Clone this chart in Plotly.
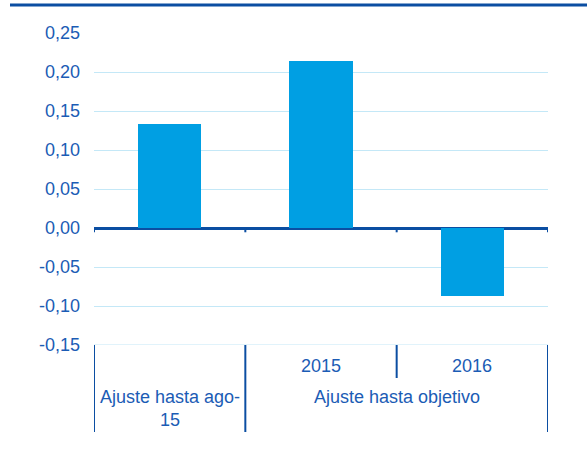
import plotly.graph_objects as go

# Data
groups = ["Ajuste hasta ago-<br>15", "Ajuste hasta objetivo"]
group_spans = [(0, 1), (1, 3)]
sub_labels = ["", "2015", "2016"]
values = [0.133, 0.214, -0.087]
y_ticks = [-0.15, -0.10, -0.05, 0.00, 0.05, 0.10, 0.15, 0.20, 0.25]
y_tick_text = ["-0,15", "-0,10", "-0,05", "0,00", "0,05", "0,10", "0,15", "0,20", "0,25"]

TXT = "#1b5cb5"
DARK = "#0b4ea2"
BAR = "#009fe3"
GRID = "#c4e8f7"
FONT = "Liberation Sans, Arial, sans-serif"
FS = 18

x_pos = [i + 0.5 for i in range(len(values))]

fig = go.Figure(go.Bar(x=x_pos, y=values, width=0.42, marker=dict(color=BAR, line=dict(width=0))))

shapes = []
# tick marks on zero line
for xb in range(len(values) + 1):
    shapes.append(dict(type="line", xref="x", yref="y", x0=xb, x1=xb, y0=0, y1=-0.0055,
                       line=dict(color=DARK, width=2)))
# bottom gridline at -0.15
shapes.append(dict(type="line", xref="x", yref="y", x0=0, x1=3, y0=-0.15, y1=-0.15,
                   line=dict(color=GRID, width=1.2), layer="below"))
# category dividers
full_h = -(432 - 345) / 312
sub_h = -(378 - 345) / 312
for xb in [0, 1, 3]:
    shapes.append(dict(type="line", xref="x", yref="paper", x0=xb, x1=xb, y0=0, y1=full_h,
                       line=dict(color=DARK, width=2)))
shapes.append(dict(type="line", xref="x", yref="paper", x0=2, x1=2, y0=0, y1=sub_h,
                   line=dict(color=DARK, width=2)))
# top rule
shapes.append(dict(type="line", xref="paper", yref="paper", x0=(10 - 94) / 454, x1=(587 - 94) / 454,
                   y0=(345 - 5) / 312, y1=(345 - 5) / 312, line=dict(color=DARK, width=3)))

annotations = []
for xp, lab in zip(x_pos, sub_labels):
    if lab:
        annotations.append(dict(x=xp, y=-(366 - 345) / 312, xref="x", yref="paper", text=lab,
                                showarrow=False, font=dict(family=FONT, size=FS, color=TXT),
                                xanchor="center", yanchor="middle"))
for lab, (a, b) in zip(groups, group_spans):
    ycen = -(408 - 345) / 312 if "<br>" in lab else -(397 - 345) / 312
    annotations.append(dict(x=(a + b) / 2, y=ycen, xref="x", yref="paper", text=lab,
                            showarrow=False, font=dict(family=FONT, size=FS, color=TXT),
                            xanchor="center", yanchor="middle"))

fig.update_layout(
    width=587, height=453,
    margin=dict(l=94, r=39, t=33, b=108),
    paper_bgcolor="white", plot_bgcolor="white",
    showlegend=False,
    font=dict(family=FONT, size=FS, color=TXT),
    xaxis=dict(range=[0, 3], showgrid=False, zeroline=False, showticklabels=False, showline=False,
               fixedrange=True),
    yaxis=dict(range=[-0.15, 0.25], tickvals=y_ticks, ticktext=y_tick_text,
               showgrid=True, gridcolor=GRID, gridwidth=1.2,
               zeroline=True, zerolinecolor=DARK, zerolinewidth=2.5,
               showline=False, ticks="", ticklabelstandoff=13,
               tickfont=dict(family=FONT, size=FS, color=TXT), fixedrange=True),
    shapes=shapes,
    annotations=annotations,
    bargap=0,
)

fig.write_html("out.html", config={"displayModeBar": False},
               post_script="document.body.style.margin='0';document.body.style.overflow='hidden';")
